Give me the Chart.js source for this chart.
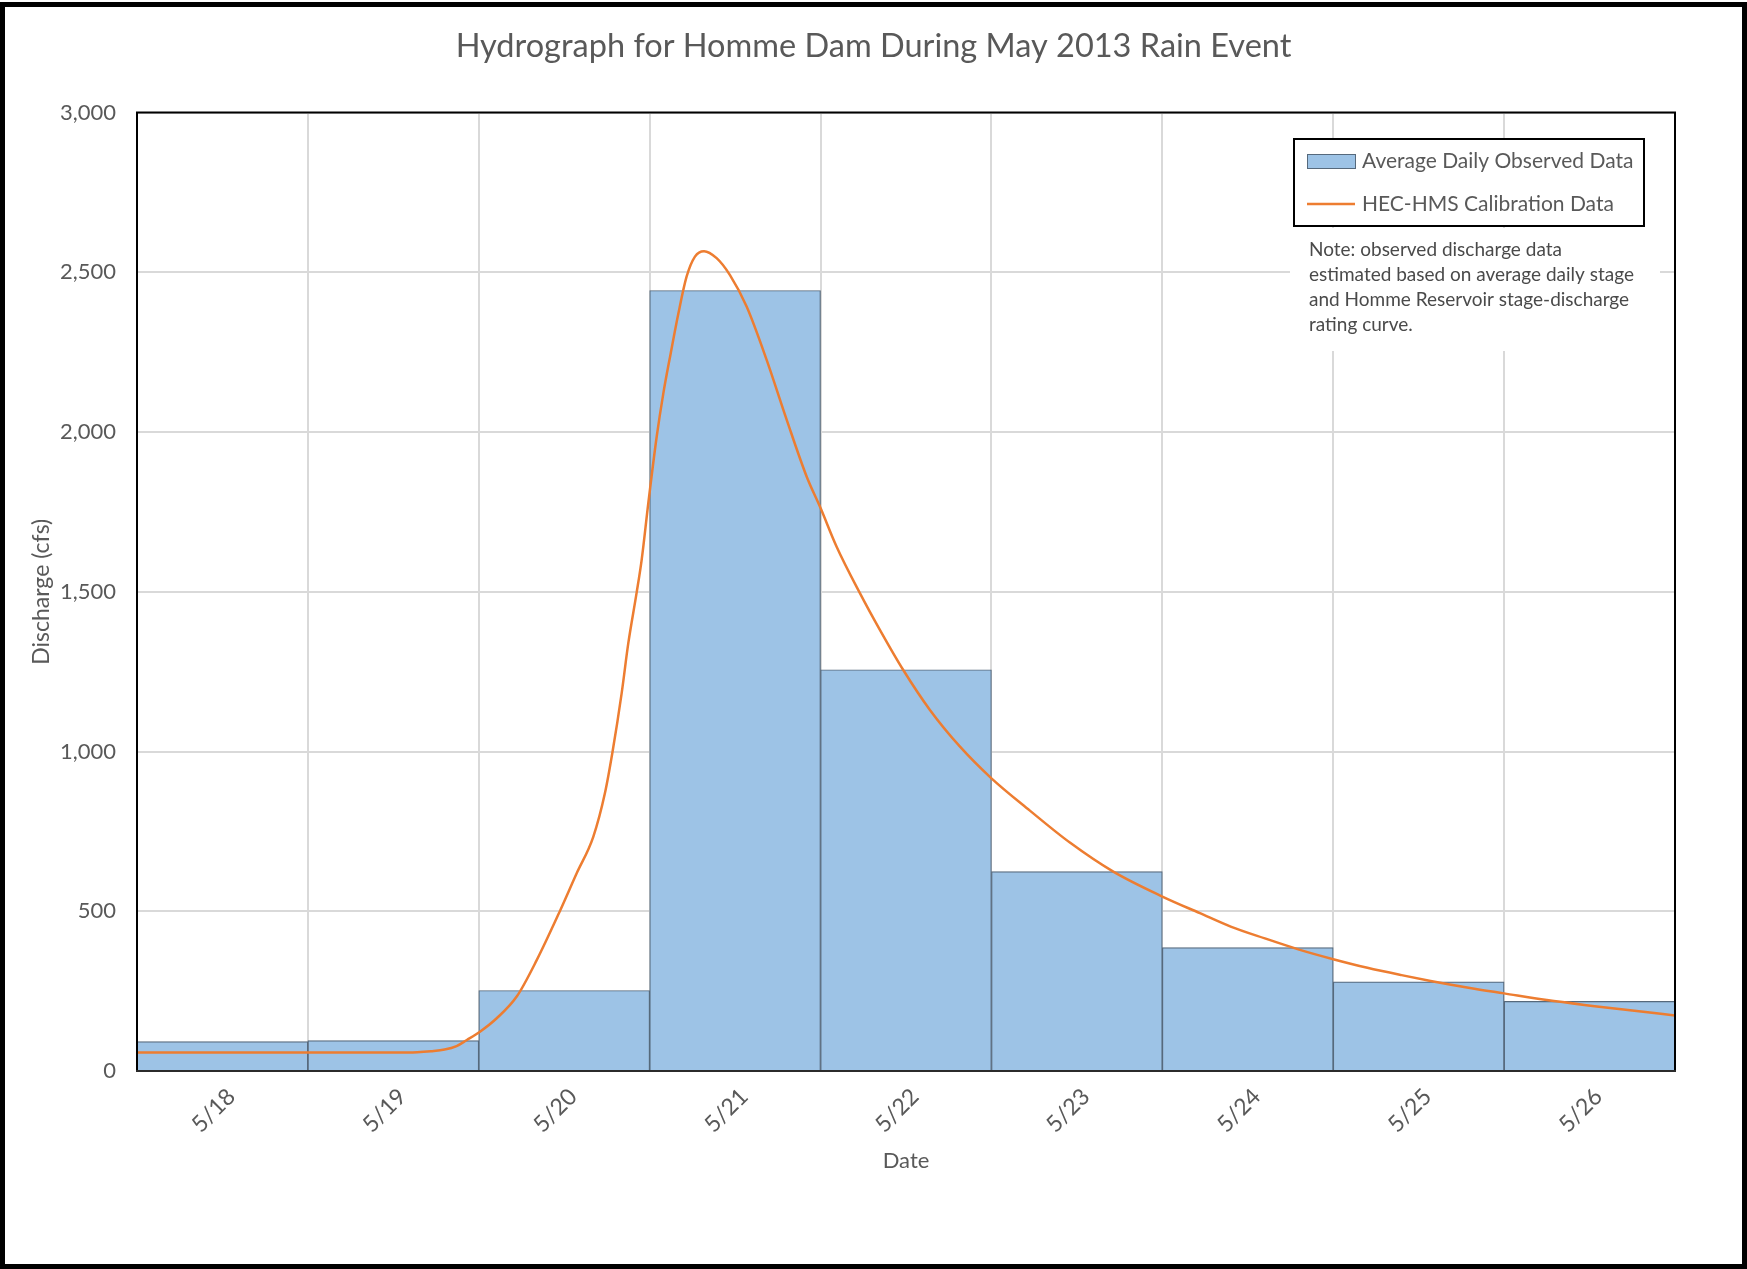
<!DOCTYPE html>
<html>
<head>
<meta charset="utf-8">
<title>Hydrograph for Homme Dam During May 2013 Rain Event</title>
<script src="https://cdn.jsdelivr.net/npm/chart.js@4/dist/chart.umd.min.js"></script>
<style>
  html, body { margin: 0; padding: 0; background: #fff; }
  canvas { display: block; }
</style>
</head>
<body>
<canvas id="hydro" width="1747" height="1269"></canvas>
<script>
// Daily categories (May 2013)
const dates = ['5/18', '5/19', '5/20', '5/21', '5/22', '5/23', '5/24', '5/25', '5/26'];

// Average daily observed discharge (cfs)
const observedFlow = [92, 95, 252, 2443, 1256, 624, 386, 279, 218];

// HEC-HMS calibration run: time in days from start of 5/18, discharge in cfs
const hmsDay = [0, 0.5, 1.0, 1.5, 1.64, 1.72, 1.80, 1.87, 1.93, 2.007, 2.105, 2.222, 2.339,
  2.475, 2.573, 2.670, 2.738, 2.783, 2.836, 2.875, 2.924, 2.953, 2.992, 3.041, 3.080,
  3.123, 3.168, 3.216, 3.265, 3.318, 3.392, 3.470, 3.568, 3.685, 3.802, 3.919, 4.0,
  4.094, 4.231, 4.348, 4.484, 4.640, 4.816, 5.0, 5.225, 5.459, 5.713, 6.0, 6.22, 6.4,
  6.6, 6.8, 7.0, 7.2, 7.4, 7.57, 7.8, 8.0, 8.25, 8.53, 8.75, 9.0];
const hmsFlow = [58, 58, 58, 58, 59, 62, 67, 78, 97, 123, 165, 233, 347,
  501, 619, 733, 869, 1000, 1182, 1339, 1498, 1599, 1777, 1985, 2121,
  2246, 2371, 2486, 2549, 2566, 2544, 2491, 2392, 2225, 2038, 1860, 1762,
  1641, 1495, 1380, 1255, 1130, 1015, 916, 815, 715, 624, 546, 494, 452,
  415, 380, 350, 323, 300, 282, 260, 243, 222, 203, 189, 174];

const legendLabels = ['Average Daily Observed Data', 'HEC-HMS Calibration Data'];
const noteLines = [
  'Note: observed discharge data',
  'estimated based on average daily stage',
  'and Homme Reservoir stage-discharge',
  'rating curve.'
];

const FONT = 'Lato, "Open Sans", sans-serif';
const GREY = '#595959';
const BAR_FILL = '#9dc3e6';
const BAR_EDGE = '#56697c';
const LINE_COLOR = '#ed7d31';
const GRID = '#d9d9d9';

// Plot frame, legend, note box and outer border
const decorations = {
  id: 'decorations',
  afterDatasetsDraw(chart) {
    const ctx = chart.ctx;
    const a = chart.chartArea;
    ctx.save();
    // plot area frame
    ctx.lineWidth = 2;
    ctx.strokeStyle = '#000';
    ctx.beginPath();
    ctx.moveTo(a.left, a.bottom);
    ctx.lineTo(a.left, a.top);
    ctx.lineTo(a.right, a.top);
    ctx.lineTo(a.right, a.bottom);
    ctx.stroke();
    ctx.strokeStyle = '#2b2b2b';
    ctx.beginPath();
    ctx.moveTo(a.left - 1, a.bottom);
    ctx.lineTo(a.right + 1, a.bottom);
    ctx.stroke();

    // legend box
    const lx = 1294, ly = 139, lw = 350, lh = 87;
    ctx.fillStyle = '#fff';
    ctx.fillRect(lx, ly, lw, lh);
    ctx.lineWidth = 2;
    ctx.strokeStyle = '#000';
    ctx.strokeRect(lx, ly, lw, lh);
    const barDs = chart.data.datasets[1];
    const lineDs = chart.data.datasets[0];
    ctx.fillStyle = barDs.backgroundColor;
    ctx.fillRect(1307, 154, 48, 14);
    ctx.lineWidth = 1;
    ctx.strokeStyle = barDs.borderColor;
    ctx.strokeRect(1307.5, 154.5, 48, 14);
    ctx.strokeStyle = lineDs.borderColor;
    ctx.lineWidth = lineDs.borderWidth;
    ctx.beginPath();
    ctx.moveTo(1307, 204);
    ctx.lineTo(1355, 204);
    ctx.stroke();
    ctx.fillStyle = GREY;
    ctx.font = '21px ' + FONT;
    ctx.textBaseline = 'middle';
    ctx.textAlign = 'left';
    ctx.fillText(barDs.label, 1362, 161);
    ctx.fillText(lineDs.label, 1362, 204);

    // note box
    ctx.fillStyle = '#fff';
    ctx.fillRect(1290, 228, 370, 123);
    ctx.fillStyle = '#4a4a4a';
    ctx.font = '19px ' + FONT;
    noteLines.forEach((t, i) => ctx.fillText(t, 1309, 250 + i * 25));

    // outer border
    ctx.lineWidth = 5;
    ctx.strokeStyle = '#000';
    ctx.strokeRect(2.5, 4.5, 1742, 1262);
    ctx.restore();
  }
};

new Chart(document.getElementById('hydro'), {
  type: 'bar',
  data: {
    labels: dates,
    datasets: [
      {
        type: 'line',
        label: legendLabels[1],
        data: hmsDay.map((d, i) => ({ x: d, y: hmsFlow[i] })),
        xAxisID: 'xt',
        borderColor: LINE_COLOR,
        borderWidth: 2.5,
        pointRadius: 0,
        fill: false,
        cubicInterpolationMode: 'monotone',
        order: 0
      },
      {
        type: 'bar',
        label: legendLabels[0],
        data: observedFlow,
        xAxisID: 'x',
        backgroundColor: BAR_FILL,
        borderColor: BAR_EDGE,
        borderWidth: 1.2,
        barPercentage: 1,
        categoryPercentage: 1,
        grouped: false,
        order: 1
      }
    ]
  },
  options: {
    responsive: false,
    animation: false,
    layout: { padding: 0 },
    plugins: {
      legend: { display: false },
      tooltip: { enabled: false },
      title: {
        display: true,
        text: 'Hydrograph for Homme Dam During May 2013 Rain Event',
        color: GREY,
        font: { family: FONT, size: 32.5, weight: 'normal', lineHeight: 1.2 },
        padding: { top: 27.5, bottom: 46 }
      }
    },
    scales: {
      x: {
        type: 'category',
        position: 'bottom',
        offset: true,
        grid: { color: GRID, lineWidth: 2, offset: true, drawTicks: false },
        border: { display: false },
        ticks: {
          color: GREY,
          font: { family: FONT, size: 23 },
          minRotation: 45,
          maxRotation: 45,
          autoSkip: false,
          padding: 12,
          labelOffset: 9
        },
        title: {
          display: true,
          text: 'Date',
          color: GREY,
          font: { family: FONT, size: 22 },
          padding: { top: 0, bottom: 95 }
        },
        afterFit(scale) { scale.height = 198; }
      },
      xt: {
        type: 'linear',
        position: 'bottom',
        display: false,
        min: 0,
        max: 9,
        offset: false
      },
      y: {
        type: 'linear',
        position: 'left',
        min: 0,
        max: 3000,
        grid: { color: GRID, lineWidth: 2, drawTicks: false },
        border: { display: false },
        ticks: {
          stepSize: 500,
          color: GREY,
          padding: 21,
          font: { family: FONT, size: 22 }
        },
        title: {
          display: true,
          text: 'Discharge (cfs)',
          color: GREY,
          font: { family: FONT, size: 23 },
          padding: { top: 28, bottom: 0 }
        },
        afterFit(scale) { scale.width = 137; }
      },
      // empty right-hand axis that only reserves the margin right of the plot
      yr: {
        type: 'linear',
        position: 'right',
        min: 0,
        max: 3000,
        grid: { display: false, drawOnChartArea: false },
        border: { display: false },
        ticks: { display: false },
        afterFit(scale) { scale.width = 72; }
      }
    }
  },
  plugins: [decorations]
});
</script>
</body>
</html>
